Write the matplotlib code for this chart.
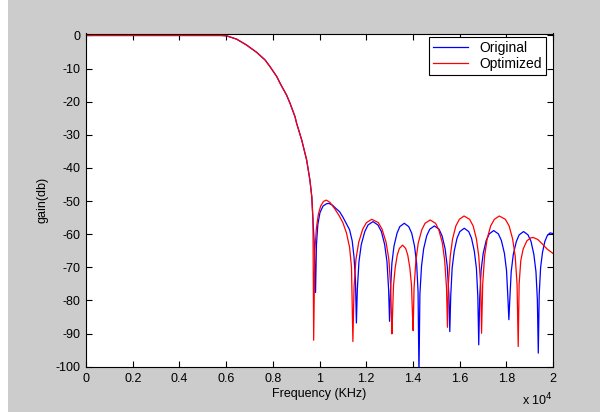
import matplotlib
matplotlib.use("Agg")
import matplotlib.pyplot as plt
from matplotlib.patches import Rectangle

plt.rcParams['font.family'] = ['Liberation Sans', 'DejaVu Sans']
plt.rcParams['axes.unicode_minus'] = False

# passband + transition band, shared by both filters (Hz, dB)
pass_freq = [0, 1000, 2000, 3000, 4000, 5000, 5500, 5800, 6020, 6450, 6880,
             7310, 7670, 7880, 8170, 8310, 8590, 8740, 8950, 9020, 9240,
             9450, 9590, 9670, 9720]
pass_gain = [0, 0, 0, 0, 0, 0, 0, 0, -0.1, -1.1, -2.9,
             -5.1, -7.4, -9.4, -12.4, -14.4, -18.0, -20.5, -24.5, -26.5, -31.6,
             -37.6, -43.7, -48.7, -55.7]

# stopband of the original filter
orig_freq = [9770, 9830, 9870, 9930, 10020, 10150, 10300, 10400, 10550, 10700,
             10860, 11000, 11150, 11290, 11400, 11480, 11540, 11580,
             11620, 11690, 11790, 11940, 12080, 12290, 12500, 12650, 12790,
             12890, 12960, 13000,
             13040, 13100, 13190, 13320, 13440, 13630, 13820, 13950, 14070,
             14160, 14220, 14260,
             14300, 14370, 14460, 14590, 14720, 14920, 15120, 15250, 15380,
             15470, 15540, 15580,
             15620, 15680, 15770, 15890, 16010, 16200, 16390, 16510, 16630,
             16720, 16780, 16820,
             16860, 16920, 17010, 17140, 17270, 17460, 17660, 17790, 17920,
             18010, 18070, 18110,
             18150, 18210, 18300, 18430, 18550, 18740, 18930, 19060, 19180,
             19270, 19330, 19370,
             19410, 19470, 19550, 19650, 19750, 19870, 20000]
orig_gain = [-62.0, -77.6, -63.0, -57.0, -53.5, -51.5, -50.8, -50.7, -51.2, -52.2,
             -53.2, -54.8, -56.8, -58.7, -62.0, -67.0, -74.0, -86.8,
             -76.7, -68.3, -63.1, -59.2, -57.2, -56.2, -57.2, -59.2, -63.1,
             -68.3, -76.7, -86.3,
             -77.2, -68.8, -63.6, -59.7, -57.7, -56.7, -57.7, -59.7, -63.6,
             -68.8, -77.2, -102.0,
             -78.0, -69.6, -64.4, -60.5, -58.5, -57.5, -58.5, -60.5, -64.4,
             -69.6, -78.0, -89.4,
             -78.7, -70.3, -65.1, -61.2, -59.2, -58.2, -59.2, -61.2, -65.1,
             -70.3, -78.7, -93.4,
             -79.4, -71.0, -65.8, -61.9, -59.9, -58.9, -59.9, -61.9, -65.8,
             -71.0, -79.4, -85.8,
             -79.7, -71.3, -66.1, -62.2, -60.2, -59.2, -60.2, -62.2, -66.1,
             -71.3, -79.7, -95.9,
             -78.0, -70.0, -65.5, -62.2, -60.5, -59.6, -59.8]

# stopband of the optimized filter
opt_freq = [9750, 9800, 9870, 9950, 10050, 10170, 10290, 10450, 10650, 10850,
            11000, 11150, 11290, 11370, 11430,
            11480, 11560, 11680, 11850, 12010, 12240, 12520, 12680, 12850,
            12970, 13050, 13100,
            13130, 13170, 13240, 13330, 13420, 13560, 13690, 13780, 13870,
            13940, 13980, 14010,
            14050, 14130, 14230, 14380, 14520, 14740, 14970, 15110, 15260,
            15360, 15440, 15480,
            15520, 15600, 15700, 15840, 15990, 16190, 16430, 16580, 16720,
            16820, 16900, 16940,
            16990, 17070, 17180, 17330, 17490, 17700, 17960, 18120, 18270,
            18380, 18460, 18510,
            18550, 18620, 18720, 18880, 19050, 19160, 19350, 19550, 19750, 20000]
opt_gain = [-92.0, -65.0, -58.0, -54.0, -51.5, -50.1, -49.7, -50.4, -52.3, -54.5,
            -56.5, -59.5, -64.0, -70.0, -92.4,
            -76.0, -67.6, -62.4, -58.5, -56.5, -55.5, -56.5, -58.5, -62.4,
            -67.6, -76.0, -90.1,
            -83.8, -75.4, -70.2, -66.3, -64.3, -63.3, -64.3, -66.3, -70.2,
            -75.4, -83.8, -89.1,
            -76.2, -67.8, -62.6, -58.7, -56.7, -55.7, -56.7, -58.7, -62.6,
            -67.8, -76.2, -88.1,
            -75.0, -66.6, -61.4, -57.5, -55.5, -54.5, -55.5, -57.5, -61.4,
            -66.6, -75.0, -89.9,
            -75.0, -66.6, -61.4, -57.5, -55.5, -54.5, -55.5, -57.5, -61.4,
            -66.6, -75.0, -93.9,
            -75.0, -68.0, -64.5, -62.0, -61.1, -61.0, -61.6, -63.0, -64.5, -65.8]

x_ticks = [0, 2000, 4000, 6000, 8000, 10000, 12000, 14000, 16000, 18000, 20000]
x_labels = ['0', '0.2', '0.4', '0.6', '0.8', '1', '1.2', '1.4', '1.6', '1.8', '2']
y_ticks = [0, -10, -20, -30, -40, -50, -60, -70, -80, -90, -100]

W, H = 600, 412
fig = plt.figure(figsize=(W / 100, H / 100), dpi=100, facecolor='white')
# grey figure panel, with a thin white strip on the left like the screenshot
fig.patches.append(Rectangle((8 / W, 0), 1, 1, transform=fig.transFigure,
                             facecolor='#cccccc', edgecolor='none', zorder=-10))
ax = fig.add_axes([86 / W, 1 - 366.7 / H, 467 / W, 333.2 / H])

ax.plot(pass_freq + orig_freq, pass_gain + orig_gain, color='#0000ff', lw=0.9,
        label='Original')
ax.plot(pass_freq + opt_freq, pass_gain + opt_gain, color='#ff0000', lw=0.9,
        label='Optimized')

ax.set_xlim(0, 20000)
ax.set_ylim(-100, 0.6)
ax.set_xticks(x_ticks)
ax.set_xticklabels(x_labels)
ax.set_yticks(y_ticks)
ax.tick_params(direction='in', length=4, width=0.8, top=True, right=True,
               labelsize=9)
ax.tick_params(axis='x', pad=4.5)
ax.tick_params(axis='y', pad=4)
for s in ax.spines.values():
    s.set_linewidth(0.8)

ax.set_xlabel('Frequency (KHz)', fontsize=9, labelpad=2)
ax.set_ylabel('gain(db)', fontsize=9, labelpad=5)
fig.text(553 / W, 1 - 405 / H, r'x 10$^{4}$', fontsize=9, ha='right',
         va='baseline')

leg = ax.legend(loc='upper right', bbox_to_anchor=(0.985, 0.99), fontsize=10,
                fancybox=False, framealpha=1, edgecolor='black',
                handlelength=2.5, borderaxespad=0, handletextpad=0.8,
                borderpad=0.3, labelspacing=0.15)
leg.get_frame().set_linewidth(0.8)

fig.savefig('out.png', dpi=100)
